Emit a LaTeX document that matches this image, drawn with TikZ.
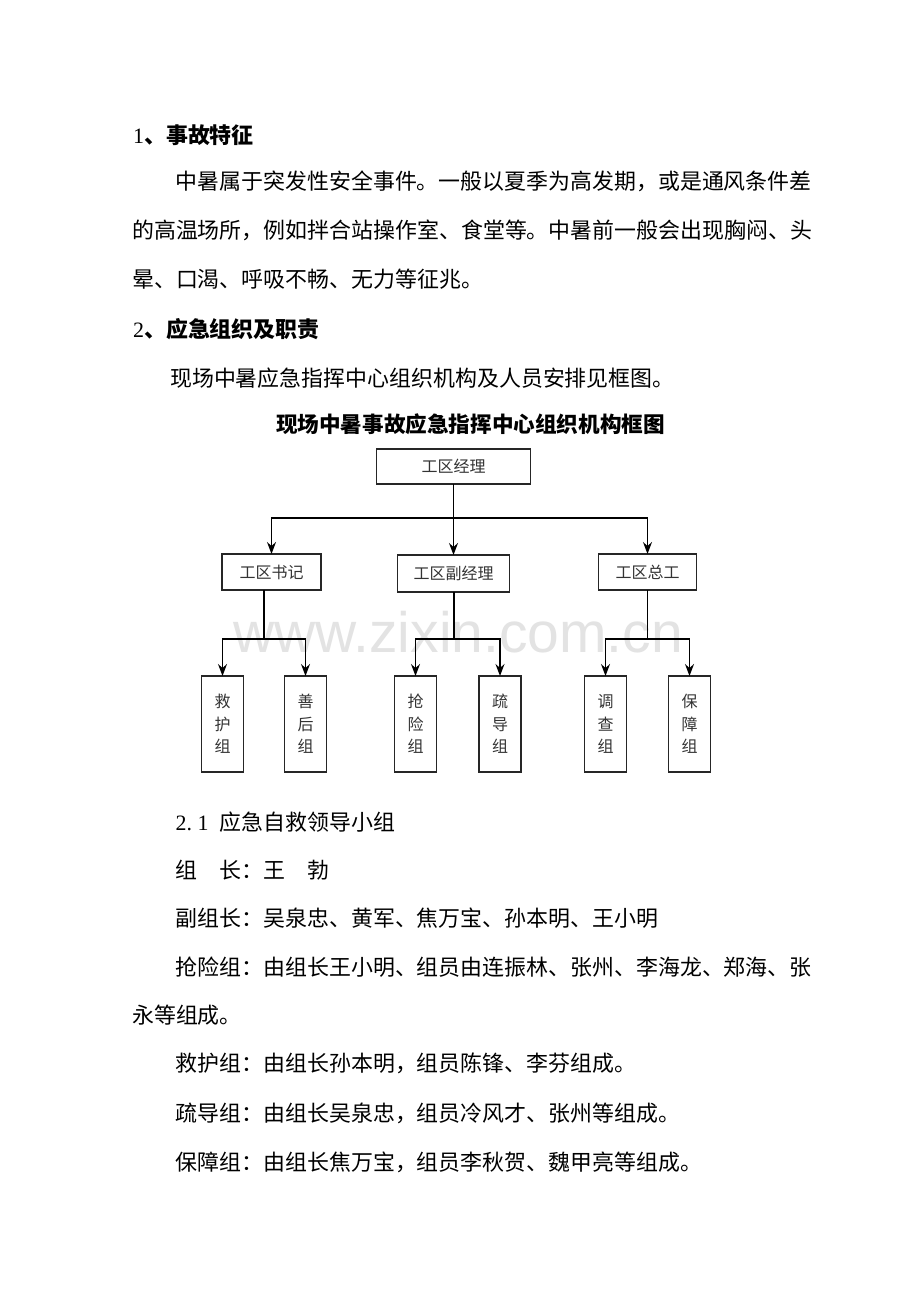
\documentclass[tikz,border=0pt]{standalone}
\usepackage{fontspec}
\setmainfont{Liberation Serif}
\newfontfamily\cjk{Noto Sans CJK SC}
\newfontfamily\wmfont{Liberation Sans}
\usetikzlibrary{arrows.meta}
\newcommand{\hw}[1]{\makebox[0.5em][l]{\rmfamily\mdseries #1}}
\tikzset{
  body/.style={anchor=base west,inner sep=0pt,font=\cjk\fontsize{21.93}{26}\selectfont,text=black},
  head/.style={anchor=base west,inner sep=0pt,font=\cjk\bfseries\fontsize{21.93}{26}\selectfont,text=black},
  orgbox/.style={draw=black!85,line width=1.3pt,inner sep=0pt,outer sep=0pt,
    font=\cjk\fontsize{16}{22.5}\selectfont,text=black!80,align=center},
  vbox/.style={orgbox,minimum width=42pt,minimum height=96pt},
  conn/.style={line width=1.4pt,black},
  arr/.style={conn,-{Stealth[length=12pt,width=9pt,inset=4pt]}}
}
\begin{document}
\begin{tikzpicture}[x=1pt,y=-1pt]
\useasboundingbox[fill=white] (0,0) rectangle (920,1302);
% watermark
\node[anchor=base west,inner sep=0pt,font=\wmfont\fontsize{57}{60}\selectfont,text=black!11] (wm) at (233,652) {www.zixin.com.cn};
% text
\node[head] (h1) at (133,143) {\hw{1}、事故特征};
\node[body] (l1) at (175.5,189) {中暑属于突发性安全事件。一般以夏季为高发期，或是通风条件差};
\node[body] (l2) at (132,238) {的高温场所，例如拌合站操作室、食堂等。中暑前一般会出现胸闷、头};
\node[body] (l3) at (132,287) {晕、口渴、呼吸不畅、无力等征兆。};
\node[head] (h2) at (133,337) {\hw{2}、应急组织及职责};
\node[body] (l4) at (170,386) {现场中暑应急指挥中心组织机构及人员安排见框图。};
\node[anchor=base,inner sep=0pt,font=\cjk\bfseries\fontsize{21.6}{26}\selectfont] (title) at (470.5,432) {现场中暑事故应急指挥中心组织机构框图};
% chart
\node[orgbox,minimum width=154pt,minimum height=35pt] (jl) at (453.5,466.5) {工区经理};
\node[orgbox,minimum width=99pt,minimum height=36pt] (sj) at (271.5,572) {工区书记};
\node[orgbox,minimum width=112pt,minimum height=37pt] (fj) at (453.5,573.5) {工区副经理};
\node[orgbox,minimum width=98pt,minimum height=36pt] (zg) at (647.5,572) {工区总工};
\node[vbox] (jh) at (222.5,724) {救\\护\\组};
\node[vbox] (sh) at (305.5,724) {善\\后\\组};
\node[vbox] (qx) at (415.5,724) {抢\\险\\组};
\node[vbox] (sd) at (500,724) {疏\\导\\组};
\node[vbox] (dc) at (605.5,724) {调\\查\\组};
\node[vbox] (bz) at (689.5,724) {保\\障\\组};
\coordinate (t) at (453.5,518);
\coordinate (b1) at (264,639);
\coordinate (b2) at (454,639);
\coordinate (b3) at (647.5,639);
\draw[arr] (jl.south) -- (fj.north);
\draw[arr] (t) -| (sj.north);
\draw[arr] (t) -| (zg.north);
\draw[conn] (b1 |- sj.south) -- (b1);
\draw[arr] (b1) -| (jh.north);
\draw[arr] (b1) -| (sh.north);
\draw[conn] (b2 |- fj.south) -- (b2);
\draw[arr] (b2) -| (qx.north);
\draw[arr] (b2) -| (sd.north);
\draw[conn] (b3 |- zg.south) -- (b3);
\draw[arr] (b3) -| (dc.north);
\draw[arr] (b3) -| (bz.north);
% lower text
\node[body] (s21) at (175.5,830) {\hw{2}\hw{.}\hw{1}\hw{ }应急自救领导小组};
\node[body] (zz) at (175.5,878) {组　长：王　勃};
\node[body] (fz) at (175.5,926) {副组长：吴泉忠、黄军、焦万宝、孙本明、王小明};
\node[body] (qxz) at (175.5,975) {抢险组：由组长王小明、组员由连振林、张州、李海龙、郑海、张};
\node[body] (qxz2) at (132,1023) {永等组成。};
\node[body] (jhz) at (175.5,1071) {救护组：由组长孙本明，组员陈锋、李芬组成。};
\node[body] (sdz) at (175.5,1121) {疏导组：由组长吴泉忠，组员冷风才、张州等组成。};
\node[body] (bzz) at (175.5,1170) {保障组：由组长焦万宝，组员李秋贺、魏甲亮等组成。};
\end{tikzpicture}
\end{document}
